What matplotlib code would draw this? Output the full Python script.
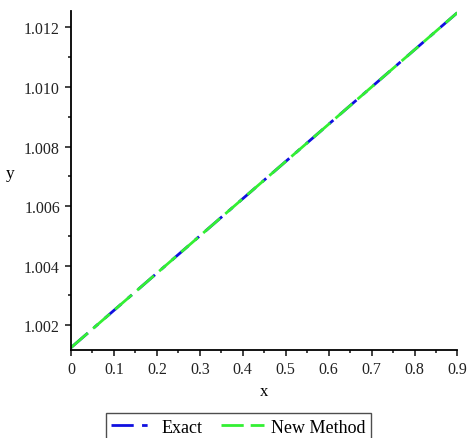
import numpy as np
import matplotlib.pyplot as plt
from matplotlib.ticker import MultipleLocator, FormatStrFormatter

plt.rcParams['font.family'] = ['Liberation Serif', 'DejaVu Serif']

# values
x = [0.0, 0.1, 0.2, 0.3, 0.4, 0.5, 0.6, 0.7, 0.8, 0.9]
y_exact = [1.00125, 1.00250, 1.00375, 1.00500, 1.00625, 1.00750, 1.00875, 1.01000, 1.01125, 1.01250]
y_new = [1.00125, 1.00250, 1.00375, 1.00500, 1.00625, 1.00750, 1.00875, 1.01000, 1.01125, 1.01250]

fig = plt.figure(figsize=(4.69, 4.39), dpi=100)
ax = fig.add_axes([0.1514, 0.2005, 0.824, 0.772])

ax.plot(x, y_exact, color='#1010e0', lw=2, dashes=(8, 3, 2, 3), label='Exact')
ax.plot(x, y_new, color='#33f033', lw=2, dashes=(8, 2.5), label='New Method')

ax.set_xlim(0, 0.9)
ax.set_ylim(1.00117, 1.01255)
ax.xaxis.set_major_locator(MultipleLocator(0.1))
ax.xaxis.set_minor_locator(MultipleLocator(0.05))
ax.yaxis.set_major_locator(MultipleLocator(0.002))
ax.yaxis.set_minor_locator(MultipleLocator(0.001))
ax.xaxis.set_major_formatter(lambda v, p: '0' if abs(v) < 1e-9 else f'{v:.1f}')
ax.yaxis.set_major_formatter(FormatStrFormatter('%.3f'))

for s in ['top', 'right']:
    ax.spines[s].set_visible(False)
for s in ['left', 'bottom']:
    ax.spines[s].set_linewidth(1.3)
ax.tick_params(which='major', direction='out', length=4, width=1.2, labelsize=11.5, colors='#222', pad=4)
ax.tick_params(which='minor', direction='out', length=2.5, width=1.2, colors='#222')

ax.set_xlabel('x', fontsize=12, labelpad=4)
ax.set_ylabel('y', fontsize=12.5, rotation=0, labelpad=10)

fig.legend(loc='upper center', bbox_to_anchor=(0.508, 0.077), ncol=2, fontsize=13,
           frameon=True, fancybox=False, edgecolor='#222', handlelength=2.4,
           columnspacing=1.0, borderpad=0.3, handletextpad=0.4)

fig.savefig('out.png', dpi=100)
